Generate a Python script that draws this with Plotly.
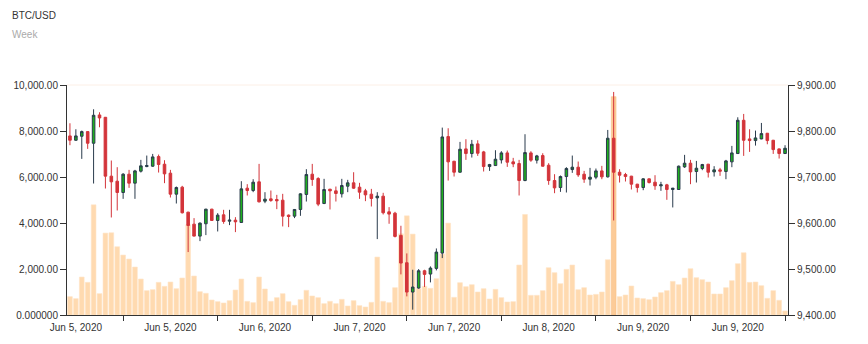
import pandas as pd
import plotly.graph_objects as go

# Hourly BTC/USD candles
hours = pd.date_range("2020-06-04 23:00", periods=122, freq="h")

opens = [9789.3, 9779.9, 9788.6, 9798.7, 9773.4, 9834.9, 9829.8, 9701.8, 9690.9, 9666.3,
         9706.1, 9686.6, 9712.6, 9722.7, 9723.5, 9744.4, 9727.8, 9708.3, 9662.7, 9677.9,
         9623.6, 9597.5, 9571.5, 9598.3, 9630.1, 9605.5, 9617.8, 9604.0, 9606.2, 9601.1,
         9675.7, 9670.6, 9689.5, 9647.5, 9652.5, 9651.1, 9649.6, 9617.1, 9614.9, 9629.4,
         9662.0, 9706.1, 9696.7, 9642.4, 9673.5, 9669.9, 9663.4, 9680.0, 9687.3, 9677.9,
         9669.9, 9662.7, 9654.7, 9658.3, 9624.3, 9621.4, 9573.0, 9513.6, 9449.9, 9458.6,
         9496.2, 9489.0, 9501.3, 9534.6, 9787.9, 9734.3, 9710.4, 9761.1, 9751.0, 9772.0,
         9754.6, 9722.7, 9724.9, 9737.2, 9752.4, 9732.9, 9729.3, 9692.3, 9752.4, 9736.5,
         9746.6, 9725.6, 9692.3, 9677.1, 9701.0, 9716.2, 9721.3, 9706.1, 9695.2, 9699.6,
         9713.3, 9700.3, 9784.3, 9710.4, 9705.4, 9701.8, 9684.4, 9677.1, 9696.0, 9688.7,
         9680.8, 9683.0, 9672.8, 9672.8, 9722.0, 9730.0, 9711.9, 9718.4, 9727.8, 9711.1,
         9715.5, 9711.9, 9732.9, 9751.0, 9823.3, 9782.8, 9779.2, 9782.8, 9795.1, 9779.9,
         9761.1, 9751.0]
highs = [9816.8, 9803.8, 9800.9, 9799.5, 9847.2, 9840.7, 9830.5, 9735.8, 9721.3, 9708.3,
         9715.5, 9715.5, 9737.2, 9746.6, 9750.2, 9748.8, 9736.5, 9715.5, 9679.3, 9680.8,
         9624.3, 9610.6, 9601.2, 9630.8, 9630.8, 9621.4, 9628.7, 9628.7, 9612.7, 9690.9,
         9684.4, 9695.2, 9728.5, 9667.0, 9670.6, 9661.2, 9663.4, 9618.5, 9630.1, 9664.8,
         9717.0, 9728.5, 9699.6, 9696.0, 9674.2, 9679.3, 9696.0, 9693.8, 9710.4, 9687.3,
         9674.2, 9674.2, 9667.0, 9665.6, 9634.5, 9624.3, 9594.0, 9533.9, 9498.4, 9499.8,
         9498.4, 9505.6, 9544.7, 9807.4, 9806.0, 9735.0, 9776.3, 9782.1, 9780.6, 9779.9,
         9756.8, 9728.5, 9758.2, 9756.1, 9757.5, 9741.6, 9737.2, 9793.0, 9756.1, 9748.1,
         9751.7, 9730.0, 9706.1, 9703.2, 9721.3, 9746.6, 9733.6, 9713.3, 9719.8, 9718.4,
         9724.2, 9802.3, 9884.9, 9716.9, 9709.0, 9702.5, 9685.1, 9697.4, 9696.7, 9703.9,
         9689.5, 9685.1, 9676.4, 9724.9, 9748.1, 9737.2, 9735.0, 9728.5, 9728.5, 9723.5,
         9719.8, 9737.2, 9767.6, 9829.8, 9837.1, 9803.8, 9800.9, 9817.5, 9795.8, 9780.6,
         9761.8, 9769.1]
lows = [9769.1, 9778.5, 9739.4, 9761.1, 9685.8, 9808.1, 9675.0, 9612.0, 9627.2, 9652.5,
        9676.4, 9652.5, 9709.7, 9721.3, 9722.0, 9709.7, 9686.6, 9655.4, 9642.4, 9620.7,
        9536.8, 9571.0, 9560.6, 9573.7, 9604.8, 9581.6, 9598.3, 9595.4, 9580.2, 9600.4,
        9659.8, 9667.0, 9644.6, 9643.1, 9646.0, 9630.1, 9592.5, 9591.0, 9610.6, 9615.6,
        9646.7, 9680.8, 9636.6, 9641.0, 9629.4, 9646.7, 9655.4, 9667.0, 9674.2, 9652.5,
        9647.5, 9635.9, 9565.0, 9618.5, 9598.3, 9568.6, 9488.3, 9440.5, 9411.6, 9457.1,
        9460.8, 9470.9, 9497.0, 9523.7, 9692.3, 9701.0, 9709.7, 9737.2, 9742.3, 9745.9,
        9711.9, 9713.3, 9724.2, 9729.3, 9722.0, 9721.3, 9659.8, 9690.9, 9732.9, 9729.3,
        9722.7, 9683.0, 9664.8, 9667.7, 9666.3, 9709.0, 9700.3, 9687.3, 9681.5, 9695.2,
        9695.2, 9698.9, 9605.5, 9688.0, 9690.2, 9672.8, 9666.3, 9671.3, 9685.8, 9672.1,
        9669.9, 9650.4, 9633.8, 9672.1, 9719.8, 9684.4, 9688.0, 9714.8, 9698.9, 9701.0,
        9702.5, 9695.2, 9721.3, 9750.3, 9745.9, 9754.6, 9768.3, 9782.1, 9771.2, 9750.2,
        9740.1, 9750.3]
closes = [9779.9, 9789.3, 9798.7, 9773.4, 9834.2, 9828.4, 9701.8, 9689.5, 9666.3, 9706.1,
          9686.6, 9713.3, 9724.2, 9724.9, 9743.7, 9727.1, 9706.8, 9662.7, 9677.1, 9622.2,
          9594.6, 9571.5, 9599.7, 9630.1, 9605.5, 9617.1, 9603.3, 9606.2, 9602.6, 9674.2,
          9670.6, 9688.7, 9646.0, 9651.8, 9648.9, 9648.2, 9614.9, 9614.2, 9629.4, 9663.4,
          9705.4, 9694.5, 9641.0, 9672.8, 9669.9, 9664.1, 9681.5, 9687.3, 9675.7, 9667.0,
          9661.2, 9653.3, 9658.3, 9622.2, 9619.3, 9570.8, 9512.9, 9449.9, 9460.8, 9496.2,
          9488.3, 9502.0, 9536.8, 9787.1, 9732.9, 9710.4, 9760.4, 9751.0, 9771.2, 9751.7,
          9722.7, 9727.1, 9738.7, 9752.4, 9732.2, 9728.5, 9692.3, 9753.1, 9736.5, 9745.9,
          9723.5, 9692.3, 9676.4, 9701.0, 9718.4, 9721.3, 9704.6, 9695.2, 9699.6, 9713.3,
          9700.3, 9784.3, 9710.4, 9703.9, 9701.0, 9684.4, 9677.1, 9696.0, 9688.0, 9680.8,
          9683.0, 9672.8, 9675.7, 9723.5, 9730.0, 9711.1, 9719.1, 9727.1, 9710.4, 9715.5,
          9712.6, 9735.0, 9752.4, 9823.3, 9779.9, 9779.2, 9785.0, 9794.4, 9779.2, 9759.6,
          9751.0, 9762.5]
volumes = [797, 710, 1651, 1419, 4791, 927, 3561, 3575, 2968, 2606,
           2432, 2085, 1564, 1058, 1101, 1419, 1246, 1434, 1144, 1608,
           3922, 1694, 1014, 942, 652, 580, 522, 624, 1086, 1564,
           594, 537, 1651, 1130, 594, 754, 927, 580, 421, 667,
           1072, 826, 754, 493, 594, 493, 681, 392, 624, 406,
           348, 551, 2519, 594, 537, 1188, 3530, 4312, 3517, 1150,
           1246, 1159, 1578, 2650, 3995, 768, 1405, 1231, 1318, 1000,
           1144, 696, 1115, 754, 566, 580, 2172, 4371, 855, 855,
           1058, 2056, 1839, 1361, 1984, 2172, 1101, 1188, 869, 898,
           1000, 2403, 9490, 797, 869, 1260, 739, 710, 667, 783,
           971, 1058, 1463, 1318, 1608, 2012, 1622, 1535, 1434, 913,
           913, 1188, 1492, 2230, 2707, 1419, 1434, 1275, 725, 1058,
           638, 175]

volume_ticks = [0, 2000, 4000, 6000, 8000, 10000]
volume_tick_text = ["0.000000", "2,000.00", "4,000.00", "6,000.00", "8,000.00", "10,000.00"]
price_ticks = [9400, 9500, 9600, 9700, 9800, 9900]
price_tick_text = ["9,400.00", "9,500.00", "9,600.00", "9,700.00", "9,800.00", "9,900.00"]

n = len(hours)
idx = list(range(n))
label_idx = list(range(1, n, 16))
label_text = [hours[i].strftime("%b %-d, %Y") for i in label_idx]
grid_idx = list(range(9, n, 16))

FONT = "Liberation Sans, Arial, sans-serif"
AXIS = "#333333"

peak = volumes.index(max(volumes))
bar_fill = ["#fccb98" if i == peak else "#ffdab0" for i in idx]
bar_line = ["#f6bf87" if i == peak else "#ffe4c6" for i in idx]

fig = go.Figure()

fig.add_trace(go.Bar(
    x=idx, y=volumes, width=0.8,
    marker=dict(color=bar_fill, line=dict(color=bar_line, width=0.6)),
    xaxis="x", yaxis="y", showlegend=False, hoverinfo="skip",
))

fig.add_trace(go.Candlestick(
    x=idx, open=opens, high=highs, low=lows, close=closes,
    increasing=dict(line=dict(color="#2a3b4c", width=1), fillcolor="#1eb01e"),
    decreasing=dict(line=dict(color="#d3343a", width=1), fillcolor="#d3343a"),
    whiskerwidth=0, xaxis="x2", yaxis="y2", showlegend=False,
))

xr = [-0.5, n - 0.5]
fig.update_layout(
    width=868, height=344,
    margin=dict(l=67, r=80, t=85, b=29),
    paper_bgcolor="white", plot_bgcolor="white",
    font=dict(family=FONT, size=10, color=AXIS),
    boxgap=0.38,
    bargap=0.2,
    xaxis=dict(
        range=xr, tickmode="array", tickvals=label_idx, ticktext=label_text,
        ticks="outside", ticklen=3, tickcolor="rgba(0,0,0,0)",
        showline=True, linecolor=AXIS, linewidth=1,
        showgrid=False, zeroline=False, rangeslider=dict(visible=False),
        tickfont=dict(size=10, color=AXIS),
    ),
    xaxis2=dict(
        range=xr, overlaying="x", anchor="y2", side="bottom",
        tickmode="array", tickvals=grid_idx, showticklabels=False,
        ticks="outside", ticklen=5, tickcolor=AXIS, tickwidth=1,
        showline=False, showgrid=False, zeroline=False,
        rangeslider=dict(visible=False),
    ),
    yaxis=dict(
        range=[0, 10000], tickmode="array", tickvals=volume_ticks, ticktext=volume_tick_text,
        ticks="outside", ticklen=6, tickcolor=AXIS, showline=True, linecolor=AXIS,
        linewidth=1, showgrid=False, zeroline=False, tickfont=dict(size=10, color=AXIS),
    ),
    yaxis2=dict(
        range=[9400, 9900], overlaying="y", side="right", anchor="x2",
        tickmode="array", tickvals=price_ticks, ticktext=price_tick_text,
        ticks="outside", ticklen=6, tickcolor=AXIS, showline=True, linecolor=AXIS,
        linewidth=1, showgrid=False, zeroline=False, tickfont=dict(size=10, color=AXIS),
    ),
    shapes=[dict(type="line", xref="x domain", yref="y domain", x0=0, x1=1, y0=1, y1=1,
                 line=dict(color="#fcefe6", width=1), layer="below")],
    annotations=[
        dict(text="BTC/USD", xref="paper", yref="paper", x=(10 - 67) / 721, y=(315 - 15) / 230,
             xanchor="left", yanchor="middle", showarrow=False,
             font=dict(family=FONT, size=10, color="#333333")),
        dict(text="Week", xref="paper", yref="paper", x=(10 - 67) / 721, y=(315 - 35) / 230,
             xanchor="left", yanchor="middle", showarrow=False,
             font=dict(family=FONT, size=10, color="#aaaaaa")),
    ],
)

fig.write_html("out.html")
